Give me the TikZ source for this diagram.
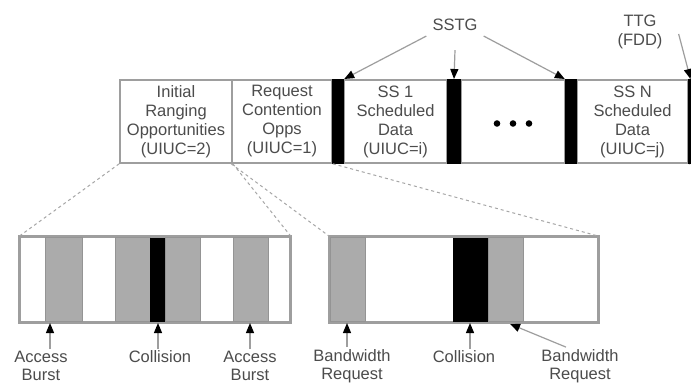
\documentclass[tikz,border=0pt]{standalone}
\usepackage{fontspec}
\setmainfont{Liberation Sans}
\usetikzlibrary{arrows.meta}
\tikzset{
  x=1pt, y=-1pt,
  txt/.style={font=\fontsize{16.5}{19}\selectfont, text=black!70, align=center, inner sep=2pt},
  lowtxt/.style={font=\fontsize{16.5}{18}\selectfont, text=black!70, align=center, inner sep=2pt},
  topbox/.style={draw=black!38, line width=1.6pt, minimum height=83pt, inner sep=0pt, txt},
  blackbar/.style={fill=black, draw=none, minimum height=84.6pt, inner sep=0pt},
  lowbox/.style={draw=black!38, line width=1.6pt, minimum height=85pt, inner sep=0pt},
  grayblk/.style={fill=black!33, draw=black!42, line width=1pt, minimum height=84pt, inner sep=0pt},
  blackblk/.style={fill=black, draw=none, minimum height=84pt, inner sep=0pt},
  arr/.style={draw=black!38, line width=1.2pt, -{Triangle[length=10pt,width=8pt,color=black]}},
  zoomline/.style={draw=black!35, line width=1pt, dash pattern=on 3pt off 3pt},
}
\begin{document}
\begin{tikzpicture}
\useasboundingbox (0,0) rectangle (691,389);
\fill[white] (0,0) rectangle (691,389);

% top frame
\node[topbox, minimum width=112pt] (irb) at (176,121.5) {Initial\\Ranging\\Opportunities\\(UIUC=2)};
\node[topbox, minimum width=100pt] (rco) at (282,121.5) {Request\\Contention\\Opps\\(UIUC=1)};
\node[topbox, minimum width=103pt] (ss1) at (395.5,121.5) {SS 1\\Scheduled\\Data\\(UIUC=i)};
\node[topbox, minimum width=104pt] (dbox) at (513,121.5) {};
\node[topbox, minimum width=111pt] (ssn) at (632.5,121.5) {SS N\\Scheduled\\Data\\(UIUC=j)};
\draw[black!38, line width=1.6pt] (ssn.north east) -- (691,80);
\draw[black!38, line width=1.6pt] (ssn.south east) -- (691,163);
\node[blackbar, minimum width=12pt] (bar1) at (338,121.5) {};
\node[blackbar, minimum width=14pt] (bar2) at (454,121.5) {};
\node[blackbar, minimum width=12pt] (bar3) at (571,121.5) {};
\node[blackbar, minimum width=5pt] (bar4) at (690.5,121.5) {};
\fill[black] (dbox.center) ++(-16,2) circle (3.3);
\fill[black] (dbox.center) ++(0,2) circle (3.3);
\fill[black] (dbox.center) ++(16,2) circle (3.3);

% labels above
\node[txt] (sstg) at (455,25) {SSTG};
\node[txt] (ttg) at (640,32) {TTG\\(FDD)};
\draw[arr] ([xshift=-4pt,yshift=-3pt]sstg.south west) -- (bar1.north east);
\draw[arr] ([yshift=-17pt]sstg.south) -- (bar2.north);
\draw[arr] ([xshift=4pt,yshift=-3pt]sstg.south east) -- (bar3.north west);
\draw[arr] ([xshift=14pt,yshift=-2pt]ttg.east) -- (bar4.north);

% lower left box
\node[lowbox, minimum width=270pt] (lbox) at (155,279.5) {};
\node[grayblk, minimum width=37pt] (g1) at (63.5,279.5) {};
\node[grayblk, minimum width=35pt] (g2) at (132.5,279.5) {};
\node[blackblk, minimum width=15pt] (k1) at (157.5,279.5) {};
\node[grayblk, minimum width=35pt] (g3) at (182.5,279.5) {};
\node[grayblk, minimum width=35pt] (g4) at (250.5,279.5) {};
\draw[black!38, line width=1.6pt] (lbox.north west) rectangle (lbox.south east);

% lower right box
\node[lowbox, minimum width=268pt] (rbox) at (464,279.5) {};
\node[grayblk, minimum width=35pt] (g5) at (347.5,279.5) {};
\node[blackblk, minimum width=35pt] (k2) at (470.5,279.5) {};
\node[grayblk, minimum width=35pt] (g6) at (505.5,279.5) {};
\draw[black!38, line width=1.6pt] (rbox.north west) rectangle (rbox.south east);

% zoom lines
\draw[zoomline] (irb.south west) -- (lbox.north west);
\draw[zoomline] (irb.south east) -- (lbox.north east);
\draw[zoomline] (rco.south west) -- (rbox.north west);
\draw[zoomline] (rco.south east) -- (rbox.north east);

% lower labels
\node[lowtxt] (l1) at (41,366) {Access\\Burst};
\node[lowtxt] (l2) at (160,357) {Collision};
\node[lowtxt] (l3) at (250,366) {Access\\Burst};
\node[lowtxt] (l4) at (352,366) {Bandwidth\\Request};
\node[lowtxt] (l5) at (464,357) {Collision};
\node[lowtxt] (l6) at (580,366) {Bandwidth\\Request};
\coordinate (t1) at (50,323);
\coordinate (t2) at (158,323);
\coordinate (t3) at (250,323);
\coordinate (t4) at (347,323);
\coordinate (t5) at (470,323);
\coordinate (t6) at (510,324);
\draw[arr] (l1.north -| t1) -- (t1);
\draw[arr] (l2.north -| t2) -- (t2);
\draw[arr] (l3.north -| t3) -- (t3);
\draw[arr] (l4.north -| t4) -- (t4);
\draw[arr] (l5.north -| t5) -- (t5);
\draw[arr] ([xshift=-14pt]l6.north) -- (t6);
\end{tikzpicture}
\end{document}
